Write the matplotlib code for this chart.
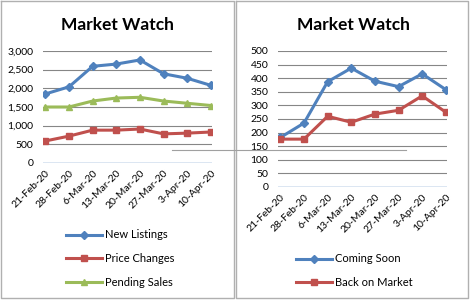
import matplotlib
matplotlib.use("Agg")
import matplotlib.pyplot as plt
from matplotlib.lines import Line2D
from matplotlib.ticker import FuncFormatter

dates = ["21-Feb-20", "28-Feb-20", "6-Mar-20", "13-Mar-20",
         "20-Mar-20", "27-Mar-20", "3-Apr-20", "10-Apr-20"]

new_listings = [1850, 2040, 2590, 2650, 2760, 2390, 2270, 2080]
price_changes = [590, 720, 880, 880, 910, 780, 800, 830]
pending_sales = [1500, 1500, 1660, 1740, 1760, 1660, 1600, 1540]

coming_soon = [182, 235, 387, 437, 389, 369, 416, 358]
back_on_market = [176, 176, 260, 238, 268, 282, 335, 275]

BLUE = "#4F81BD"
RED = "#C0504D"
GREEN = "#9BBB59"
GRID = "#868686"

plt.rcParams["font.family"] = ["Lato", "DejaVu Sans"]

W, H = 470, 300
fig = plt.figure(figsize=(W / 100, H / 100), dpi=100)


def px_axes(x0, y0, x1, y1):
    return fig.add_axes([x0 / W, 1 - y1 / H, (x1 - x0) / W, (y1 - y0) / H])


def style(ax, ymax, step, fmt):
    x = range(len(dates))
    ax.set_xlim(-0.1, 7.05)
    ax.set_ylim(0, ymax)
    ax.set_yticks(range(0, ymax + 1, step))
    ax.yaxis.set_major_formatter(FuncFormatter(fmt))
    for t in range(step, ymax + 1, step):
        ax.axhline(t, color=GRID, lw=0.8, zorder=0)
    ax.axhline(0, color=BLUE, lw=1.0, zorder=1)
    for s in ax.spines.values():
        s.set_visible(False)
    ax.set_xticks(list(x))
    ax.set_xticklabels(dates, rotation=45, ha="right", rotation_mode="anchor",
                       fontsize=7.5)
    ax.tick_params(axis="both", length=0, labelsize=7.5)
    ax.tick_params(axis="y", pad=7)
    ax.tick_params(axis="x", pad=4)
    ax.set_facecolor("none")


x = list(range(len(dates)))

# left chart
ax1 = px_axes(43, 51, 212, 163)
style(ax1, 3000, 500, lambda v, p: f"{int(v):,}")
ax1.plot(x, new_listings, color=BLUE, lw=2.2, marker="D", ms=4, label="New Listings")
ax1.plot(x, price_changes, color=RED, lw=2.2, marker="s", ms=5, label="Price Changes")
ax1.plot(x, pending_sales, color=GREEN, lw=2.2, marker="^", ms=5, label="Pending Sales")
fig.text(117 / W, 1 - 25 / H, "Market Watch", ha="center", va="center",
         fontsize=12.5, fontweight="bold")
ax1.legend(loc="upper left", bbox_to_anchor=(62 / W, 1 - 225 / H),
           bbox_transform=fig.transFigure, frameon=False, fontsize=8,
           handlelength=3.2, handletextpad=0.3, labelspacing=1.15,
           borderaxespad=0)

# right chart
ax2 = px_axes(278, 51, 447, 187)
style(ax2, 500, 50, lambda v, p: f"{int(v)}")
ax2.plot(x, coming_soon, color=BLUE, lw=2.2, marker="D", ms=4, label="Coming Soon")
ax2.plot(x, back_on_market, color=RED, lw=2.2, marker="s", ms=5, label="Back on Market")
fig.text(353 / W, 1 - 25 / H, "Market Watch", ha="center", va="center",
         fontsize=12.5, fontweight="bold")
ax2.legend(loc="upper left", bbox_to_anchor=(292 / W, 1 - 249 / H),
           bbox_transform=fig.transFigure, frameon=False, fontsize=8,
           handlelength=3.2, handletextpad=0.3, labelspacing=1.15,
           borderaxespad=0)

# panel borders and the stray line across the screenshot
border = "#B0B0B0"
fig.add_artist(Line2D([1 / W, 1 / W, 234 / W, 234 / W, 1 / W],
                      [1 - 1 / H, 1 - 298 / H, 1 - 298 / H, 1 - 1 / H, 1 - 1 / H],
                      color=border, lw=1))
fig.add_artist(Line2D([236 / W, 236 / W, 468 / W, 468 / W, 236 / W],
                      [1 - 1 / H, 1 - 298 / H, 1 - 298 / H, 1 - 1 / H, 1 - 1 / H],
                      color=border, lw=1))
fig.add_artist(Line2D([172 / W, 406 / W], [1 - 150 / H, 1 - 150 / H],
                      color="#A0A0A0", lw=0.8))

fig.savefig("out.png", dpi=100)
